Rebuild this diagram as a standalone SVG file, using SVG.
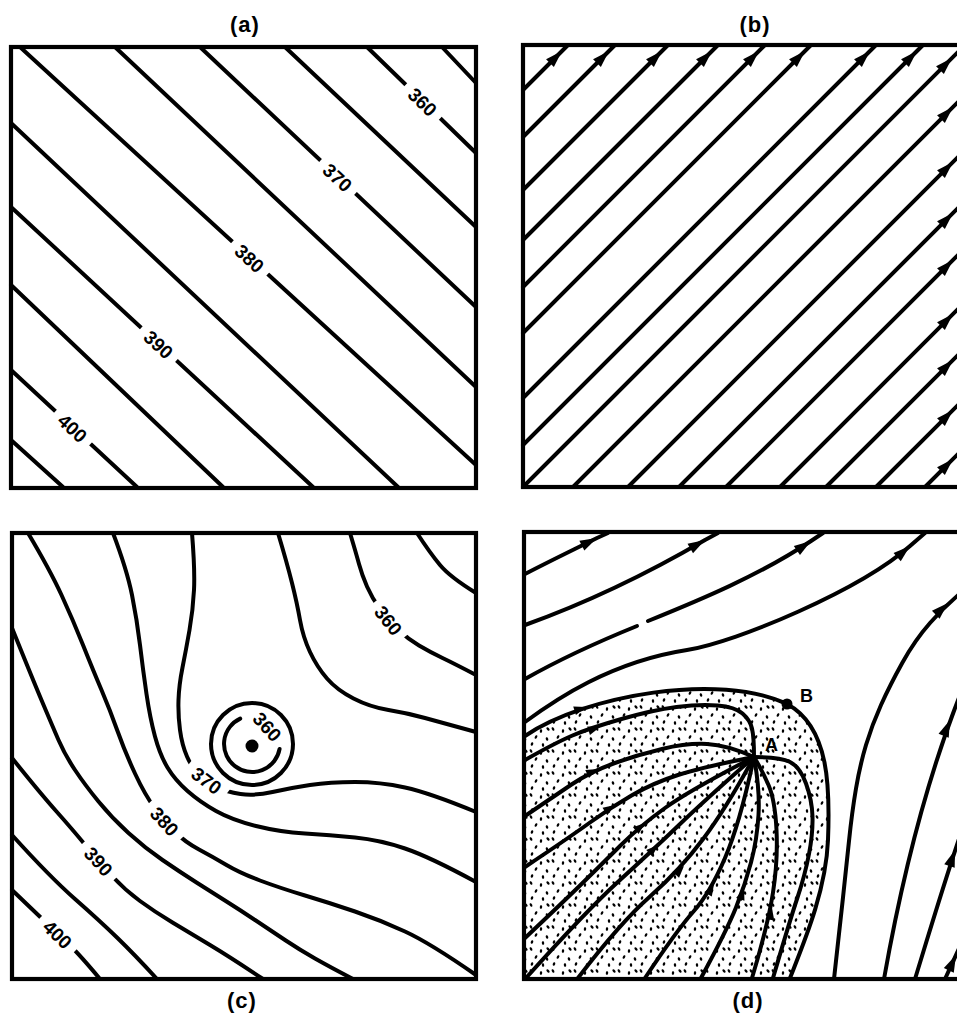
<svg xmlns="http://www.w3.org/2000/svg" xmlns:xlink="http://www.w3.org/1999/xlink" width="957" height="1015" viewBox="0 0 957 1015">
<style>
.ln{fill:none;stroke:#000;stroke-width:4;stroke-linecap:round;stroke-linejoin:round}
.box{fill:none;stroke:#000;stroke-width:4.2}
.lbl{font-family:"Liberation Sans",Arial,sans-serif;font-weight:bold;font-size:19px;text-anchor:middle;dominant-baseline:central}
.ttl{font-family:"Liberation Sans",Arial,sans-serif;font-weight:bold;font-size:22px;text-anchor:middle;letter-spacing:1px}
.pt{font-family:"Liberation Sans",Arial,sans-serif;font-weight:bold;font-size:18px}
.gap{fill:#fff}
</style>
<defs>
<path id="ah" d="M0,0 L-17,-5.5 L-17,5.5 Z"/>
<path id="ahs" d="M0,0 L-12,-4.4 L-12,4.4 Z"/>
<pattern id="dots" patternUnits="userSpaceOnUse" width="22" height="22">
<ellipse cx="3" cy="3" rx="1.9" ry="1.2" transform="rotate(60 3 3)"/>
<ellipse cx="13" cy="5" rx="1.9" ry="1.2" transform="rotate(100 13 5)"/>
<ellipse cx="19" cy="13" rx="1.9" ry="1.2" transform="rotate(70 19 13)"/>
<ellipse cx="8" cy="11" rx="1.9" ry="1.2" transform="rotate(120 8 11)"/>
<ellipse cx="15" cy="19" rx="1.9" ry="1.2" transform="rotate(80 15 19)"/>
<ellipse cx="4" cy="18" rx="1.9" ry="1.2" transform="rotate(110 4 18)"/>
<ellipse cx="20" cy="3" rx="1.9" ry="1.2" transform="rotate(50 20 3)"/>
</pattern>
</defs>
<rect width="957" height="1015" fill="#fff"/>

<!-- Panel (a) -->
<g id="panel-a">
<text class="ttl" x="245" y="32">(a)</text>
<g id="a-lines">
<path class="ln" d="M442,47 L476,83"/>
<path class="ln" d="M367,47 L476,153"/>
<path class="ln" d="M285,47 L476,227"/>
<path class="ln" d="M200,47 L476,307"/>
<path class="ln" d="M115,47 L476,387"/>
<path class="ln" d="M20,47 L476,465"/>
<path class="ln" d="M11,123 L398,487"/>
<path class="ln" d="M11,207 L313,487"/>
<path class="ln" d="M11,285 L223,487"/>
<path class="ln" d="M11,370 L137,487"/>
<path class="ln" d="M11,440 L63,487"/>
</g>
<g id="a-labels">
<g transform="translate(423,101.5) rotate(44)"><rect class="gap" x="-24" y="-8" width="48" height="16"/><text class="lbl" x="0" y="1">360</text></g>
<g transform="translate(338,177) rotate(43)"><rect class="gap" x="-24" y="-8" width="48" height="16"/><text class="lbl" x="0" y="1">370</text></g>
<g transform="translate(250,258) rotate(42.5)"><rect class="gap" x="-24" y="-8" width="48" height="16"/><text class="lbl" x="0" y="1">380</text></g>
<g transform="translate(159,344) rotate(43)"><rect class="gap" x="-24" y="-8" width="48" height="16"/><text class="lbl" x="0" y="1">390</text></g>
<g transform="translate(73,427.6) rotate(43)"><rect class="gap" x="-24" y="-8" width="48" height="16"/><text class="lbl" x="0" y="1">400</text></g>
</g>
<rect class="box" x="11" y="47" width="465" height="441"/>
</g>

<!-- Panel (b) -->
<g id="panel-b">
<text class="ttl" x="755" y="32">(b)</text>
<g id="b-lines">
<path class="ln" d="M523,90 L568,45"/>
<path class="ln" d="M523,137 L615,45"/>
<path class="ln" d="M523,190 L668,45"/>
<path class="ln" d="M523,240 L718,45"/>
<path class="ln" d="M523,287 L765,45"/>
<path class="ln" d="M523,333 L811,45"/>
<path class="ln" d="M523,398 L876,45"/>
<path class="ln" d="M523,445 L923,45"/>
<path class="ln" d="M523,487 L962,48"/>
<path class="ln" d="M573,487 L962,98"/>
<path class="ln" d="M628,487 L962,153"/>
<path class="ln" d="M679,487 L962,204"/>
<path class="ln" d="M726,487 L962,251"/>
<path class="ln" d="M780,487 L962,305"/>
<path class="ln" d="M826,487 L962,351"/>
<path class="ln" d="M876,487 L962,401"/>
<path class="ln" d="M925,487 L962,450"/>
</g>
<g id="b-arrows">
<use xlink:href="#ah" transform="translate(562,51) rotate(-45)"/>
<use xlink:href="#ah" transform="translate(609,51) rotate(-45)"/>
<use xlink:href="#ah" transform="translate(662,51) rotate(-45)"/>
<use xlink:href="#ah" transform="translate(712,51) rotate(-45)"/>
<use xlink:href="#ah" transform="translate(759,51) rotate(-45)"/>
<use xlink:href="#ah" transform="translate(805,51) rotate(-45)"/>
<use xlink:href="#ah" transform="translate(870,51) rotate(-45)"/>
<use xlink:href="#ah" transform="translate(917,51) rotate(-45)"/>
<use xlink:href="#ah" transform="translate(952,58) rotate(-45)"/>
<use xlink:href="#ah" transform="translate(953,107) rotate(-45)"/>
<use xlink:href="#ah" transform="translate(953,162) rotate(-45)"/>
<use xlink:href="#ah" transform="translate(953,213) rotate(-45)"/>
<use xlink:href="#ah" transform="translate(953,260) rotate(-45)"/>
<use xlink:href="#ah" transform="translate(953,314) rotate(-45)"/>
<use xlink:href="#ah" transform="translate(953,360) rotate(-45)"/>
<use xlink:href="#ah" transform="translate(953,410) rotate(-45)"/>
<use xlink:href="#ah" transform="translate(953,459) rotate(-45)"/>
</g>
<rect class="box" x="523" y="45" width="442" height="442"/>
</g>

<!-- Panel (c) -->
<g id="panel-c">
<g id="c-lines">
<path class="ln" d="M417,533 Q430,553 440,565 Q450,577 476,593"/>
<path class="ln" d="M350,533 Q356,553 359,564 Q362,575 367,586.5 Q372,598 380,609 Q388,620 398,629.5 Q408,639 419,645.5 Q430,652 442.5,658 Q455,664 476,675"/>
<path class="ln" d="M278,533 Q287,563 292,583 Q297,603 300,620 Q303,637 310,652 Q317,667 327,678.5 Q337,690 353.5,698.5 Q370,707 388.5,710 Q407,713 425,718 Q443,723 476,732"/>
<path class="ln" d="M192,533 Q195,570 194,590 Q193,610 189.5,630 Q186,650 182.5,667.5 Q179,685 178.5,700 Q178,715 180,730 Q182,745 187,756.5 Q192,768 200,775 Q208,782 217,787 Q226,792 240.5,794 Q255,796 272.5,792 Q290,788 310,785 Q330,782 355,782 Q380,782 405,787.5 Q430,793 476,812"/>
<path class="ln" d="M113,533 Q127,570 132,595 Q137,620 140,645 Q143,670 146.5,694 Q150,718 155,736.5 Q160,755 167.5,767.5 Q175,780 187.5,791 Q200,802 216,811 Q232,820 256,826 Q280,832 305,833.5 Q330,835 355,837.5 Q380,840 405,848.5 Q430,857 476,882"/>
<path class="ln" d="M28,533 Q50,570 61.5,595 Q73,620 83,645 Q93,670 101.5,690 Q110,710 117.5,731 Q125,752 135,773.5 Q145,795 155,808.5 Q165,822 175,832 Q185,842 199,849.5 Q213,857 226.5,865 Q240,873 260,880.5 Q280,888 305,895.5 Q330,903 355,911.5 Q380,920 405,931.5 Q430,943 476,975"/>
<path class="ln" d="M12,628 Q33,680 42.5,702.5 Q52,725 58.5,740 Q65,755 75,770 Q85,785 98.5,801.5 Q112,818 128.5,833 Q145,848 162.5,860 Q180,872 196.5,882.5 Q213,893 226.5,901.5 Q240,910 255,920 Q270,930 285,940 Q300,950 315,958.5 Q330,967 353,979"/>
<path class="ln" d="M12,758 Q40,793 56.5,811.5 Q73,830 86.5,846.5 Q100,863 112.5,876.5 Q125,890 140,901 Q155,912 172.5,922.5 Q190,933 210,945 Q230,957 263,979"/>
<path class="ln" d="M12,835 Q50,877 75,899 Q100,921 117.5,938 Q135,955 157,979"/>
<path class="ln" d="M12,890 Q35,912 46.5,923 Q58,934 69,944.5 Q80,955 100,979"/>
<circle class="ln" cx="252" cy="744" r="41"/>
<path class="ln" d="M240.2,718.6 A28,28 0 1 0 279.6,748.9"/>
<circle cx="252" cy="746" r="6.5"/>
</g>
<g id="c-labels">
<g transform="translate(389,620) rotate(52)"><rect class="gap" x="-23" y="-8" width="46" height="16"/><text class="lbl" x="0" y="1">360</text></g>
<g transform="translate(207,780) rotate(37)"><rect class="gap" x="-24" y="-8" width="48" height="16"/><text class="lbl" x="0" y="1">370</text></g>
<g transform="translate(165,821) rotate(47)"><rect class="gap" x="-24" y="-8" width="48" height="16"/><text class="lbl" x="0" y="1">380</text></g>
<g transform="translate(99,861) rotate(48)"><rect class="gap" x="-24" y="-8" width="48" height="16"/><text class="lbl" x="0" y="1">390</text></g>
<g transform="translate(58,934) rotate(44)"><rect class="gap" x="-24" y="-8" width="48" height="16"/><text class="lbl" x="0" y="1">400</text></g>
<text class="lbl" transform="translate(267,727) rotate(48)" x="0" y="0">360</text>
</g>
<rect class="box" x="12" y="533" width="464" height="446"/>
<text class="ttl" x="242" y="1008">(c)</text>
</g>

<!-- Panel (d) -->
<g id="panel-d">
<path id="shade" d="M525,736 C585,695 720,672 787,704 C830,727 830,790 828,840 C826,890 805,940 790,978 L525,978 Z" fill="url(#dots)"/>
<g id="d-lines">
<path class="ln" d="M525,574 C550,561 575,549 597,538 L608,533"/>
<path class="ln" d="M525,625 C575,607 640,578 705,540 L718,533"/>
<path class="ln" d="M525,679 C555,662 600,641 637,626"/>
<path class="ln" d="M648,621 C700,600 760,575 811,541 L823,533"/>
<path class="ln" d="M525,722 C555,700 610,662 687,650 C737,642 860,590 910,546 L925,533"/>
<path class="ln" d="M525,736 C585,695 720,672 787,704 C830,727 830,790 828,840 C826,890 805,940 790,978"/>
<path class="ln" d="M525,760 Q555,743 572.5,735.5 Q590,728 621.5,719 Q653,710 676.5,707 Q700,704 717.5,705.5 Q735,707 742.5,713.5 Q750,720 752,728.5 Q754,737 754,757"/>
<path class="ln" d="M525,816 Q553,797 571.5,784.5 Q590,772 613.5,763.5 Q637,755 662,749 Q687,743 707,744 Q727,745 754,757"/>
<path class="ln" d="M525,867 Q570,837 590,822.5 Q610,808 631.5,795.5 Q653,783 678,775 Q703,767 754,757"/>
<path class="ln" d="M525,938 Q560,905 580,885.5 Q600,866 620,846 Q640,826 665,808 Q690,790 754,757"/>
<path class="ln" d="M526,978 Q587,910 620,880 Q653,850 679,825 Q705,800 754,757"/>
<path class="ln" d="M578,978 Q620,923 650,896.5 Q680,870 703.5,838.5 Q727,807 754,757"/>
<path class="ln" d="M645,978 Q677,930 693.5,911.5 Q710,893 725,858 Q740,823 754,757"/>
<path class="ln" d="M701,978 Q727,930 736,907.5 Q745,885 751,862.5 Q757,840 758.5,815 Q760,790 754,757"/>
<path class="ln" d="M752,978 Q768,925 773,892.5 Q778,860 776.5,830 Q775,800 768.5,785 Q762,770 754,757"/>
<path class="ln" d="M754,757 Q780,757 790,762 Q800,767 806,783.5 Q812,800 812.5,816.5 Q813,833 809,854 Q805,875 797.5,897.5 Q790,920 773,978"/>
<path class="ln" d="M834,979 Q840,925 843,897.5 Q846,870 849,841 Q852,812 856,788.5 Q860,765 866,745 Q872,725 881,705 Q890,685 902.5,662.5 Q915,640 930,623 Q945,606 962,592"/>
<path class="ln" d="M884,979 C898,900 922,790 962,690"/>
<path class="ln" d="M915,979 C930,930 945,880 962,830"/>
<path class="ln" d="M945,979 L962,942"/>
</g>
<g id="d-arrows">
<use xlink:href="#ah" transform="translate(597,538) rotate(-27)"/>
<use xlink:href="#ah" transform="translate(705,540) rotate(-30)"/>
<use xlink:href="#ah" transform="translate(811,541) rotate(-34)"/>
<use xlink:href="#ah" transform="translate(910,546) rotate(-41)"/>
<use xlink:href="#ah" transform="translate(948,603) rotate(-44)"/>
<use xlink:href="#ah" transform="translate(950,720) rotate(-68)"/>
<use xlink:href="#ah" transform="translate(955,850) rotate(-71)"/>
<use xlink:href="#ah" transform="translate(956,955) rotate(-65)"/>
<use xlink:href="#ahs" transform="translate(586,707) rotate(-18)"/>
<use xlink:href="#ahs" transform="translate(600,727) rotate(-18)"/>
<use xlink:href="#ahs" transform="translate(598,769) rotate(-25)"/>
<use xlink:href="#ahs" transform="translate(615,805) rotate(-33)"/>
<use xlink:href="#ahs" transform="translate(645,823) rotate(-40)"/>
<use xlink:href="#ahs" transform="translate(658,845) rotate(-43)"/>
<use xlink:href="#ahs" transform="translate(684,866) rotate(-47)"/>
<use xlink:href="#ahs" transform="translate(714,884) rotate(-60)"/>
<use xlink:href="#ahs" transform="translate(744,888) rotate(-72)"/>
<use xlink:href="#ahs" transform="translate(772,908) rotate(-80)"/>
</g>
<circle cx="787" cy="704" r="5.5"/>
<text class="pt" x="765" y="751">A</text>
<text class="pt" x="800" y="702">B</text>
<rect class="box" x="524" y="532" width="442" height="447"/>
<text class="ttl" x="748" y="1008">(d)</text>
</g>
</svg>
